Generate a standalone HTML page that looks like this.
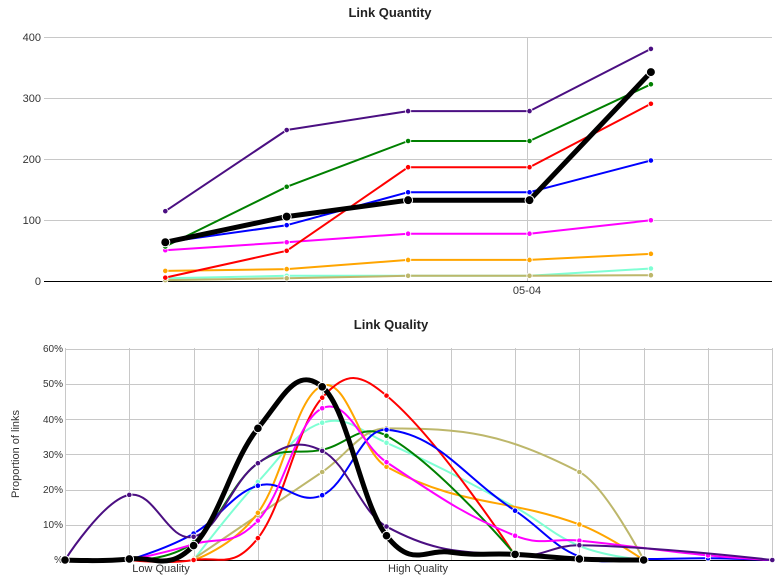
<!DOCTYPE html>
<html><head><meta charset="utf-8">
<style>
html,body{margin:0;padding:0;background:#fff;}
svg{display:block;}
text{font-family:"Liberation Sans",Arial,sans-serif;fill:#333;}
.t{font-weight:bold;font-size:13px;fill:#222;}
.l{font-size:11px;}
.s{font-size:10px;}
</style></head>
<body>
<svg id="c" width="779" height="584" viewBox="0 0 779 584" xmlns="http://www.w3.org/2000/svg">
<rect width="779" height="584" fill="#fff"/>
<text class="t" x="390" y="17" text-anchor="middle">Link Quantity</text>
<g stroke="#c8c8c8" stroke-width="1">
<line x1="44" y1="37.5" x2="772" y2="37.5"/>
<line x1="44" y1="98.5" x2="772" y2="98.5"/>
<line x1="44" y1="159.5" x2="772" y2="159.5"/>
<line x1="44" y1="220.5" x2="772" y2="220.5"/>
<line x1="527.5" y1="37" x2="527.5" y2="281"/>
</g>
<line x1="44" y1="281.5" x2="772" y2="281.5" stroke="#000" stroke-width="1"/>
<g class="l" text-anchor="end">
<text x="41" y="41">400</text>
<text x="41" y="102">300</text>
<text x="41" y="163">200</text>
<text x="41" y="224">100</text>
<text x="41" y="285">0</text>
</g>
<text class="l" x="527" y="294" text-anchor="middle">05-04</text>
<g id="top"></g>

<text class="t" x="391" y="329" text-anchor="middle">Link Quality</text>
<g id="grid2" stroke="#c8c8c8" stroke-width="1"></g>
<line x1="65" y1="560.5" x2="772" y2="560.5" stroke="#000" stroke-width="1"/>
<g class="s" text-anchor="end">
<text x="63" y="352">60%</text>
<text x="63" y="387">50%</text>
<text x="63" y="423">40%</text>
<text x="63" y="458">30%</text>
<text x="63" y="493">20%</text>
<text x="63" y="528">10%</text>
<text x="63" y="563">%</text>
</g>
<text class="l" x="161" y="572" text-anchor="middle">Low Quality</text>
<text class="l" x="418" y="572" text-anchor="middle">High Quality</text>
<text class="l" transform="translate(19,454) rotate(-90)" text-anchor="middle">Proportion of links</text>
<g id="bot"></g>
</svg>
<script>
(function(){
var NS="http://www.w3.org/2000/svg";
function el(tag,attrs,parent){var e=document.createElementNS(NS,tag);for(var k in attrs)e.setAttribute(k,attrs[k]);parent.appendChild(e);return e;}
var g2=document.getElementById('grid2');
var ys=[60,50,40,30,20,10];
ys.forEach(function(v){var y=Math.round(560-v*3.52)+0.5;el('line',{x1:65,y1:y,x2:772,y2:y},g2);});
for(var i=0;i<12;i++){var x=Math.round(65+64.3*i)+0.5;el('line',{x1:x,y1:348,x2:x,y2:560},g2);}

var top=document.getElementById('top');
var tser=[
 ['#ffa500',[17,20,35,35,45]],
 ['#7fffd4',[5,9,9,9,21]],
 ['#bdb76b',[2,5,9,9,10]],
 ['#ff00ff',[51,64,78,78,100]],
 ['#0000ff',[64,92,146,146,198]],
 ['#ff0000',[6,50,187,187,291]],
 ['#008000',[57,155,230,230,323]],
 ['#4b0f82',[115,248,279,279,381]],
 ['#000000',[64,106,133,133,343]]
];
tser.forEach(function(s){
  var blk=s[0]=='#000000';
  var pts=s[1].map(function(v,i){return [165.3+121.4*i,281.3-v*0.61];});
  var d=pts.map(function(p,i){return (i?'L':'M')+p[0].toFixed(1)+' '+p[1].toFixed(1);}).join(' ');
  var g=el('g',{},top);
  el('path',{d:d,fill:'none',stroke:s[0],'stroke-width':blk?5:2,'stroke-linejoin':'round','stroke-linecap':'round'},g);
  pts.forEach(function(p){el('circle',{cx:p[0],cy:p[1],r:blk?4.5:2.7,fill:s[0],stroke:'#fff','stroke-width':blk?1:0.8},g);});
});

function spline(pts){
  var s=1.5,dn=2.5,path='',rc=[];
  for(var i=0;i<pts.length;i++){
    var x=pts[i][0],y=pts[i][1],lcx=null,lcy=null;
    if(i>0&&i<pts.length-1){
      var lx=pts[i-1][0],ly=pts[i-1][1],nx=pts[i+1][0],ny=pts[i+1][1];
      lcx=(s*x+lx)/dn;lcy=(s*y+ly)/dn;
      var rcx=(s*x+nx)/dn,rcy=(s*y+ny)/dn;
      var corr=((rcy-lcy)*(rcx-x))/(rcx-lcx)+y-rcy;
      lcy+=corr;rcy+=corr;rc[i]=[rcx,rcy];
    }
    if(i===0)path+='M'+x.toFixed(2)+' '+y.toFixed(2);
    else{
      var p=rc[i-1]||pts[i-1];
      var l=(lcx!==null)?[lcx,lcy]:[x,y];
      path+=' C'+p[0].toFixed(2)+' '+p[1].toFixed(2)+' '+l[0].toFixed(2)+' '+l[1].toFixed(2)+' '+x.toFixed(2)+' '+y.toFixed(2);
    }
  }
  return path;
}
var bot=document.getElementById('bot');
var bser=[
 ['#7fffd4',[[2,0],[3,22.2],[4,39],[5,33.3],[7,15,1],[8,4,1],[9,0]]],
 ['#bdb76b',[[2,0.3],[3,12.7],[4,25],[5,37.4],[8,25],[9,0]]],
 ['#ffa500',[[2,0],[3,13.4],[4,49.5],[5,26.5],[8,10.1],[9,0]]],
 ['#ff0000',[[1,0],[2,0],[3,6.2],[4,46.1],[5,46.7],[7,1.2]]],
 ['#008000',[[1,0],[2,5],[3,27.5],[4,31.3],[5,35.3],[7,1.5]]],
 ['#0000ff',[[1,0],[2,7.5],[3,21.1],[4,18.4],[5,37],[7,14],[8,1],[9,0.3],[10,0.5],[11,0]]],
 ['#ff00ff',[[1,0],[2,4.5],[3,11.2],[4,43.1],[5,27.8],[7,6.9],[8,5.5],[10,1.3],[11,0]]],
 ['#4b0f82',[[0,0],[1,18.5],[2,6.6],[3,27.5],[4,31],[5,9.5],[7,1.2],[8,4.2],[11,0]]],
 ['#000000',[[0,0],[1,0.3],[2,4.1],[3,37.4],[4,49.2],[5,6.9],[6,2.2,1],[7,1.6],[8,0.3],[9,0]]]
];
bser.forEach(function(s){
  var blk=s[0]=='#000000';
  var pts=s[1].map(function(p){return [65+64.3*p[0],560-p[1]*3.52,p[2]];});
  var g=el('g',{},bot);
  el('path',{d:spline(pts),fill:'none',stroke:s[0],'stroke-width':blk?5:2,'stroke-linejoin':'round','stroke-linecap':'round'},g);
  pts.forEach(function(p){if(p[2])return;el('circle',{cx:p[0],cy:p[1],r:blk?4.3:2.7,fill:s[0],stroke:'#fff','stroke-width':blk?1:0.8},g);});
});
})();
</script>
</body></html>
